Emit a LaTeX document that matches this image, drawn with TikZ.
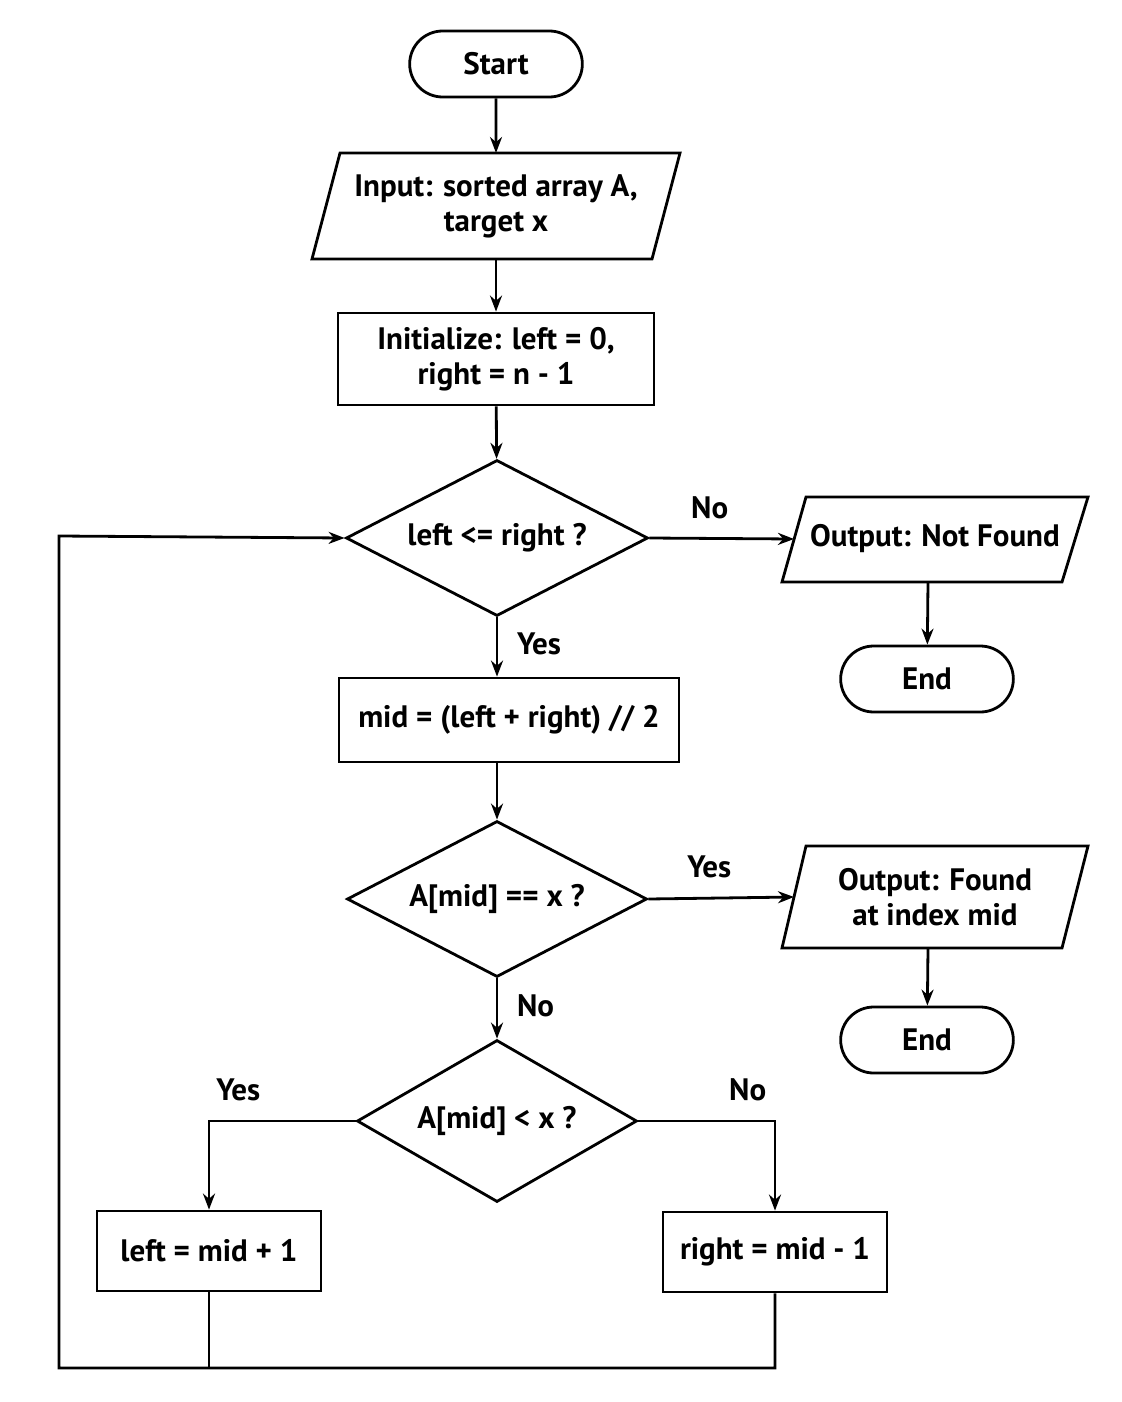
\documentclass[tikz,border=0pt]{standalone}
\usepackage{fontspec}
\setmainfont{PT Sans}
\usetikzlibrary{shapes.geometric,shapes.misc,arrows.meta}
\begin{document}
\begin{tikzpicture}[x=0.5pt,y=-0.5pt,
  every node/.style={font=\fontsize{15.5}{17.5}\selectfont\bfseries},
  line/.style={line width=1.4pt},
  arr/.style={line, -{Stealth[length=8pt,width=6pt]}},
  box/.style={draw, line width=1.4pt, rectangle, inner sep=0pt, align=center},
  term/.style={draw, line width=1.4pt, rounded rectangle, minimum width=93pt, minimum height=33pt},
  dia/.style={draw, line width=1.4pt, diamond, aspect=1.9, inner sep=0pt},
  lbl/.style={font=\fontsize{15.5}{17.5}\selectfont\bfseries}]
\useasboundingbox (0,0) rectangle (1122,1402);
% shapes
\node[term] (start) at (496,64) {Start};
\node[align=center] (input) at (496,206) {Input: sorted array A,\\target x};
\draw[line] (340,153) -- (680,153) -- (652,259) -- (312,259) -- cycle;
\coordinate (inT) at (496,153); \coordinate (inB) at (496,259);
\node[box, minimum width=158pt, minimum height=46pt] (init) at (496,359) {Initialize: left = 0,\\right = n - 1};
\node[dia, minimum width=151pt, minimum height=78pt] (d1) at (497,538) {left <= right ?};
\node (nf) at (935,539) {Output: Not Found};
\draw[line] (806,497) -- (1088,497) -- (1062,582) -- (782,582) -- cycle;
\coordinate (nfL) at (794,539); \coordinate (nfB) at (928,582);
\node[term] (end1) at (927,679) {End};
\node[box, minimum width=170pt, minimum height=42pt] (mid) at (509,720) {mid = (left + right) // 2};
\node[dia, minimum width=150pt, minimum height=78pt] (d2) at (497,899) {A[mid] == x ?};
\node[align=center] (found) at (935,897) {Output: Found\\at index mid};
\draw[line] (806,846) -- (1088,846) -- (1062,948) -- (782,948) -- cycle;
\coordinate (fL) at (794,897); \coordinate (fB) at (928,948);
\node[term] (end2) at (927,1040) {End};
\node[dia, minimum width=140pt, minimum height=81pt] (d3) at (497,1121) {A[mid] < x ?};
\node[box, minimum width=112pt, minimum height=40pt] (lr) at (209,1251) {left = mid + 1};
\node[box, minimum width=112pt, minimum height=40pt] (rr) at (775,1252) {right = mid - 1};
% connectors
\draw[arr] (start) -- (inT);
\draw[arr] (inB) -- (init);
\draw[arr] (init) -- (d1);
\draw[arr] (d1) -- (d1 |- mid.north) node[lbl, pos=0.45, right=6pt] {Yes};
\draw[arr] (d1.east) -- (nfL) node[lbl, midway, above=6pt, xshift=-6pt] {No};
\draw[arr] (nfB) -- (end1);
\draw[arr] (d2.north |- mid.south) -- (d2);
\draw[arr] (d2.east) -- (fL) node[lbl, midway, above=6pt, xshift=-6pt] {Yes};
\draw[arr] (fB) -- (end2);
\draw[arr] (d2) -- (d3) node[lbl, pos=0.45, right=6pt] {No};
\draw[arr] (d3.west) -| (lr.north) node[lbl, pos=0.4, above=6pt] {Yes};
\draw[arr] (d3.east) -| (rr.north) node[lbl, pos=0.4, above=6pt] {No};
\coordinate (bl) at (59,1368);
\draw[line] (lr.south) -- (lr.south |- bl);
\draw[arr] (rr.south) -- (rr.south |- bl) -- (bl) -- (59,536) -- (d1.west);
\end{tikzpicture}
\end{document}
